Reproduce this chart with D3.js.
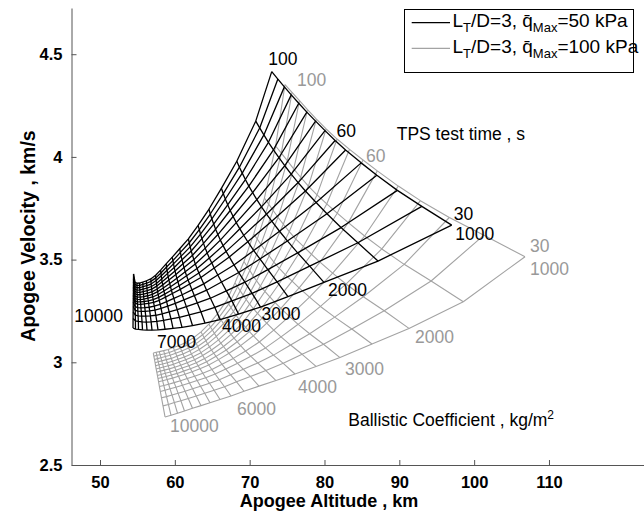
<!DOCTYPE html>
<html><head><meta charset="utf-8">
<script src="https://cdn.jsdelivr.net/npm/d3@7"></script>
<style>
body{margin:0;background:#fff;}
svg{display:block;font-family:"Liberation Sans",Arial,sans-serif;}
</style></head><body>
<svg id="c" width="644" height="521"></svg>
<script>
const xTicks=[50,60,70,80,90,100,110];
const yTicks=[2.5,3,3.5,4,4.5];
const testTimes=[100,95,90,85,80,75,70,65,60,55,50,45,40,35,30];
const ballistic=[1000,1500,2000,2500,3000,3500,4000,4500,5000,5500,6000,6500,7000,7500,8000,8500,9000,9500,10000];
// qMax = 50 kPa : one row per ballistic coefficient, values along test time 100..30 s
const alt50=[
[72.95,73.77,74.64,75.56,76.56,77.64,78.81,80.07,81.42,82.82,84.90,87.00,89.74,93.01,97.00],
[70.81,71.34,71.90,72.51,73.18,73.91,74.69,75.55,76.48,77.45,78.88,80.33,82.21,84.46,87.15],
[68.28,68.63,69.01,69.43,69.89,70.40,70.96,71.58,72.25,72.95,73.99,75.04,76.41,78.02,79.93],
[66.22,66.48,66.75,67.06,67.40,67.79,68.21,68.69,69.21,69.75,70.55,71.37,72.43,73.67,75.12],
[64.55,64.74,64.95,65.19,65.45,65.75,66.08,66.45,66.85,67.28,67.90,68.54,69.36,70.33,71.45],
[63.11,63.27,63.43,63.62,63.83,64.06,64.32,64.61,64.93,65.26,65.74,66.24,66.88,67.63,68.51],
[61.81,61.93,62.05,62.19,62.36,62.54,62.74,62.97,63.21,63.48,63.86,64.25,64.76,65.35,66.04],
[60.65,60.74,60.84,60.96,61.09,61.23,61.39,61.57,61.77,61.98,62.29,62.60,63.01,63.48,64.03],
[59.66,59.74,59.82,59.92,60.02,60.14,60.27,60.41,60.57,60.73,60.98,61.22,61.54,61.92,62.36],
[58.83,58.89,58.96,59.03,59.11,59.20,59.31,59.42,59.54,59.67,59.87,60.06,60.32,60.61,60.96],
[58.09,58.14,58.19,58.24,58.30,58.38,58.46,58.54,58.64,58.75,58.90,59.05,59.25,59.49,59.76],
[57.43,57.46,57.50,57.54,57.59,57.64,57.70,57.77,57.84,57.92,58.04,58.16,58.31,58.49,58.69],
[56.78,56.81,56.83,56.87,56.90,56.94,56.99,57.04,57.10,57.16,57.25,57.34,57.46,57.59,57.75],
[56.21,56.23,56.25,56.27,56.30,56.33,56.36,56.40,56.45,56.50,56.56,56.64,56.73,56.83,56.95],
[55.72,55.73,55.75,55.76,55.78,55.81,55.83,55.86,55.90,55.93,55.99,56.04,56.11,56.19,56.28],
[55.29,55.30,55.31,55.32,55.33,55.35,55.37,55.39,55.41,55.44,55.47,55.51,55.56,55.62,55.68],
[54.94,54.94,54.95,54.95,54.96,54.97,54.98,54.99,55.00,55.02,55.04,55.06,55.09,55.12,55.15],
[54.68,54.68,54.68,54.68,54.68,54.68,54.68,54.69,54.69,54.70,54.70,54.71,54.72,54.73,54.74],
[54.48,54.48,54.47,54.47,54.47,54.46,54.46,54.46,54.45,54.45,54.44,54.44,54.43,54.42,54.41]];
const vel50=[
[4.415,4.379,4.341,4.302,4.261,4.218,4.174,4.128,4.080,4.034,3.971,3.911,3.837,3.759,3.668],
[4.174,4.141,4.107,4.071,4.034,3.996,3.957,3.916,3.875,3.834,3.778,3.723,3.656,3.582,3.493],
[3.979,3.950,3.921,3.890,3.858,3.826,3.792,3.757,3.721,3.687,3.638,3.591,3.533,3.468,3.389],
[3.847,3.821,3.795,3.767,3.739,3.710,3.680,3.650,3.618,3.587,3.544,3.503,3.451,3.392,3.320],
[3.745,3.722,3.698,3.673,3.648,3.622,3.595,3.568,3.540,3.513,3.474,3.437,3.390,3.336,3.269],
[3.667,3.646,3.624,3.602,3.579,3.556,3.532,3.508,3.484,3.459,3.425,3.391,3.348,3.299,3.235],
[3.601,3.582,3.562,3.542,3.521,3.500,3.479,3.457,3.435,3.413,3.382,3.351,3.312,3.267,3.208],
[3.553,3.535,3.517,3.499,3.480,3.461,3.441,3.421,3.401,3.381,3.353,3.325,3.289,3.246,3.191],
[3.512,3.495,3.479,3.462,3.445,3.427,3.409,3.392,3.373,3.355,3.329,3.304,3.271,3.231,3.179],
[3.479,3.464,3.448,3.433,3.417,3.401,3.384,3.368,3.351,3.335,3.311,3.287,3.256,3.219,3.170],
[3.449,3.435,3.421,3.406,3.392,3.377,3.362,3.347,3.332,3.317,3.295,3.273,3.245,3.211,3.165],
[3.424,3.411,3.398,3.384,3.371,3.357,3.344,3.330,3.316,3.302,3.282,3.262,3.236,3.204,3.161],
[3.406,3.394,3.381,3.369,3.356,3.343,3.331,3.318,3.305,3.292,3.273,3.254,3.229,3.199,3.158],
[3.397,3.385,3.373,3.361,3.349,3.337,3.324,3.312,3.299,3.287,3.268,3.250,3.226,3.197,3.157],
[3.391,3.379,3.368,3.356,3.344,3.332,3.320,3.308,3.296,3.284,3.266,3.248,3.225,3.196,3.157],
[3.386,3.375,3.363,3.352,3.340,3.329,3.317,3.305,3.294,3.282,3.265,3.248,3.225,3.197,3.158],
[3.385,3.374,3.363,3.351,3.340,3.329,3.317,3.306,3.294,3.283,3.266,3.249,3.226,3.199,3.160],
[3.391,3.380,3.368,3.357,3.345,3.334,3.322,3.311,3.299,3.288,3.271,3.253,3.230,3.202,3.162],
[3.430,3.417,3.404,3.391,3.377,3.364,3.351,3.338,3.325,3.312,3.292,3.272,3.246,3.213,3.167]];
// qMax = 100 kPa
const alt100=[
[74.72,75.66,76.66,77.73,78.92,80.22,81.68,83.35,85.15,87.06,89.86,92.82,96.68,101.31,106.80],
[73.47,74.23,75.03,75.88,76.82,77.85,79.00,80.30,81.70,83.18,85.36,87.66,90.65,94.25,98.55],
[71.97,72.54,73.14,73.79,74.50,75.29,76.17,77.17,78.26,79.40,81.09,82.87,85.19,87.98,91.29],
[70.55,71.01,71.50,72.02,72.60,73.24,73.96,74.78,75.67,76.61,78.00,79.46,81.36,83.65,86.35],
[69.24,69.62,70.02,70.44,70.92,71.44,72.03,72.69,73.41,74.17,75.30,76.48,78.02,79.87,82.07],
[68.04,68.38,68.74,69.12,69.54,69.99,70.49,71.05,71.65,72.28,73.22,74.19,75.47,77.01,78.87],
[66.91,67.20,67.51,67.83,68.19,68.57,68.99,69.46,69.97,70.50,71.29,72.11,73.19,74.49,76.06],
[65.69,65.95,66.22,66.50,66.81,67.14,67.51,67.91,68.34,68.79,69.46,70.16,71.07,72.17,73.52],
[64.54,64.78,65.02,65.28,65.55,65.84,66.15,66.50,66.86,67.24,67.81,68.39,69.16,70.09,71.25],
[63.50,63.71,63.92,64.15,64.38,64.63,64.90,65.20,65.51,65.83,66.31,66.81,67.46,68.25,69.24],
[62.48,62.67,62.86,63.05,63.26,63.49,63.72,63.98,64.25,64.53,64.95,65.38,65.95,66.64,67.51],
[61.48,61.66,61.83,62.02,62.21,62.42,62.64,62.87,63.11,63.36,63.74,64.12,64.63,65.25,66.04],
[60.58,60.75,60.92,61.09,61.27,61.46,61.66,61.87,62.08,62.31,62.64,62.98,63.43,63.99,64.70],
[59.80,59.95,60.11,60.27,60.43,60.60,60.78,60.97,61.16,61.36,61.66,61.96,62.37,62.86,63.50],
[59.11,59.25,59.38,59.53,59.67,59.82,59.98,60.14,60.31,60.49,60.75,61.01,61.37,61.80,62.36],
[58.50,58.62,58.74,58.86,58.99,59.12,59.26,59.40,59.54,59.69,59.91,60.14,60.44,60.81,61.29],
[57.92,58.03,58.14,58.25,58.36,58.48,58.60,58.72,58.85,58.98,59.17,59.36,59.62,59.94,60.36],
[57.50,57.59,57.69,57.78,57.88,57.97,58.07,58.17,58.27,58.37,58.53,58.68,58.89,59.14,59.49],
[57.12,57.20,57.28,57.36,57.43,57.51,57.59,57.67,57.75,57.83,57.94,58.06,58.22,58.42,58.69]];
const vel100=[
[4.352,4.314,4.274,4.230,4.184,4.136,4.087,4.037,3.985,3.932,3.858,3.787,3.705,3.619,3.514],
[4.053,4.018,3.982,3.942,3.901,3.858,3.815,3.771,3.726,3.680,3.615,3.552,3.477,3.396,3.295],
[3.799,3.770,3.739,3.706,3.672,3.636,3.600,3.564,3.526,3.488,3.434,3.381,3.319,3.251,3.165],
[3.625,3.600,3.574,3.547,3.518,3.488,3.457,3.426,3.395,3.362,3.317,3.272,3.220,3.162,3.089],
[3.491,3.469,3.447,3.422,3.397,3.371,3.345,3.318,3.291,3.263,3.224,3.185,3.139,3.088,3.023],
[3.387,3.368,3.348,3.327,3.306,3.283,3.261,3.238,3.215,3.191,3.157,3.124,3.084,3.039,2.980],
[3.300,3.283,3.266,3.247,3.229,3.209,3.189,3.170,3.149,3.129,3.099,3.070,3.035,2.995,2.943],
[3.236,3.221,3.205,3.188,3.171,3.153,3.136,3.118,3.100,3.081,3.055,3.029,2.997,2.960,2.911],
[3.186,3.171,3.157,3.141,3.126,3.109,3.093,3.077,3.060,3.044,3.019,2.995,2.966,2.931,2.884],
[3.148,3.134,3.120,3.105,3.090,3.075,3.060,3.044,3.029,3.013,2.990,2.967,2.939,2.905,2.859],
[3.119,3.105,3.091,3.077,3.062,3.047,3.033,3.018,3.003,2.987,2.965,2.943,2.915,2.881,2.836],
[3.097,3.083,3.070,3.056,3.041,3.027,3.012,2.998,2.983,2.969,2.947,2.925,2.898,2.864,2.819],
[3.082,3.068,3.055,3.040,3.026,3.012,2.998,2.983,2.969,2.954,2.932,2.911,2.883,2.849,2.803],
[3.072,3.058,3.044,3.030,3.015,3.001,2.986,2.972,2.957,2.942,2.921,2.899,2.871,2.836,2.789],
[3.062,3.048,3.034,3.019,3.005,2.990,2.976,2.961,2.946,2.932,2.910,2.888,2.859,2.824,2.776],
[3.057,3.042,3.028,3.013,2.998,2.983,2.968,2.953,2.938,2.923,2.901,2.879,2.849,2.813,2.763],
[3.052,3.037,3.022,3.007,2.992,2.977,2.962,2.947,2.931,2.916,2.893,2.871,2.841,2.804,2.752],
[3.049,3.034,3.018,3.003,2.988,2.972,2.957,2.941,2.926,2.910,2.887,2.864,2.833,2.795,2.742],
[3.045,3.029,3.014,2.998,2.983,2.967,2.952,2.936,2.921,2.905,2.882,2.858,2.827,2.788,2.734]];

const svg=d3.select("#c");
const x=d3.scaleLinear().domain([46.19,122.7]).range([71.5,644]);
const y=d3.scaleLinear().domain([2.5,4.725]).range([465,8]);

const line=d3.line().x(d=>x(d[0])).y(d=>y(d[1]));
function drawGrid(alt,vel,color,width){
  const g=svg.append("g").attr("fill","none").attr("stroke",color).attr("stroke-width",width).attr("stroke-linejoin","round");
  testTimes.forEach((t,i)=>g.append("path").attr("d",line(ballistic.map((b,j)=>[alt[j][i],vel[j][i]]))));
  ballistic.forEach((b,j)=>g.append("path").attr("d",line(testTimes.map((t,i)=>[alt[j][i],vel[j][i]]))));
}
drawGrid(alt100,vel100,"#a3a3a3",1.1);
drawGrid(alt50,vel50,"#000",1.3);

const xa=svg.append("g").attr("transform","translate(0,465)")
  .call(d3.axisBottom(x).tickValues(xTicks).tickSizeInner(-5).tickSizeOuter(0).tickPadding(11));
const ya=svg.append("g").attr("transform","translate(71.5,0)")
  .call(d3.axisLeft(y).tickValues(yTicks).tickFormat(d3.format("~g")).tickSizeInner(-5).tickSizeOuter(0).tickPadding(9));
[xa,ya].forEach(a=>{a.select(".domain").attr("stroke","#555");a.selectAll(".tick line").attr("stroke","#555");
  a.selectAll("text").attr("font-size",16.5).attr("font-weight","bold").attr("fill","#000").attr("font-family","Liberation Sans, Arial, sans-serif");});
svg.append("text").attr("x",329).attr("y",507).attr("text-anchor","middle").attr("font-size",18).attr("font-weight","bold").text("Apogee Altitude , km");
svg.append("text").attr("transform","translate(34.5,236) rotate(-90)").attr("text-anchor","middle").attr("font-size",19.5).attr("font-weight","bold").text("Apogee Velocity , km/s");

const last=testTimes.length-1, lb=ballistic.length-1;
function lab(alt,vel,ti,bi,dx,dy,t,col,anchor){
  svg.append("text").attr("x",x(alt[bi][ti])+dx).attr("y",y(vel[bi][ti])+dy).attr("font-size",17.5).attr("fill",col).attr("text-anchor",anchor||"start").text(t);
}
lab(alt50,vel50,0,0,-3.5,-7,"100","#000");
lab(alt50,vel50,8,0,1.5,-3.5,"60","#000");
lab(alt50,vel50,last,0,2,-5,"30","#000");
lab(alt50,vel50,last,0,3.5,15,"1000","#000");
lab(alt50,vel50,last,2,4,13.5,"2000","#000");
lab(alt50,vel50,last,4,1,13,"3000","#000");
lab(alt50,vel50,last,6,2,12.5,"4000","#000");
lab(alt50,vel50,last,12,-1,18,"7000","#000");
lab(alt50,vel50,last,lb,-10,-6,"10000","#000","end");
const gc="#999";
lab(alt100,vel100,0,0,12,1.5,"100",gc);
lab(alt100,vel100,8,0,3,2,"60",gc);
lab(alt100,vel100,last,0,5,-5,"30",gc);
lab(alt100,vel100,last,0,5,18,"1000",gc);
lab(alt100,vel100,last,2,6,14.5,"2000",gc);
lab(alt100,vel100,last,4,5,17.5,"3000",gc);
lab(alt100,vel100,last,6,3,19,"4000",gc);
lab(alt100,vel100,last,10,6,19,"6000",gc);
lab(alt100,vel100,last,lb,5,15,"10000",gc);

svg.append("text").attr("x",396.7).attr("y",139.5).attr("font-size",17.5).text("TPS test time , s");
const bt=svg.append("text").attr("x",348.3).attr("y",426).attr("font-size",17.5);
bt.append("tspan").text("Ballistic Coefficient , kg/m");
bt.append("tspan").attr("dy",-7).attr("font-size",12).text("2");

svg.append("rect").attr("x",404.5).attr("y",9.5).attr("width",229).attr("height",63).attr("fill","#fff").attr("stroke","#000").attr("stroke-width",1);
[["#000","50"],["#a3a3a3","100"]].forEach((e,i)=>{
  const yy=22.7+i*25.6;
  svg.append("line").attr("x1",411.7).attr("x2",450).attr("y1",yy).attr("y2",yy).attr("stroke",e[0]).attr("stroke-width",1.2);
  const t=svg.append("text").attr("x",452.5).attr("y",yy+4.5).attr("font-size",19);
  t.append("tspan").text("L");
  t.append("tspan").attr("dy",5).attr("font-size",13).text("T");
  t.append("tspan").attr("dy",-5).text("/D=3, q\u0304");
  t.append("tspan").attr("dy",5).attr("font-size",13).text("Max");
  t.append("tspan").attr("dy",-5).text("="+e[1]+" kPa");
});
</script>
</body></html>
